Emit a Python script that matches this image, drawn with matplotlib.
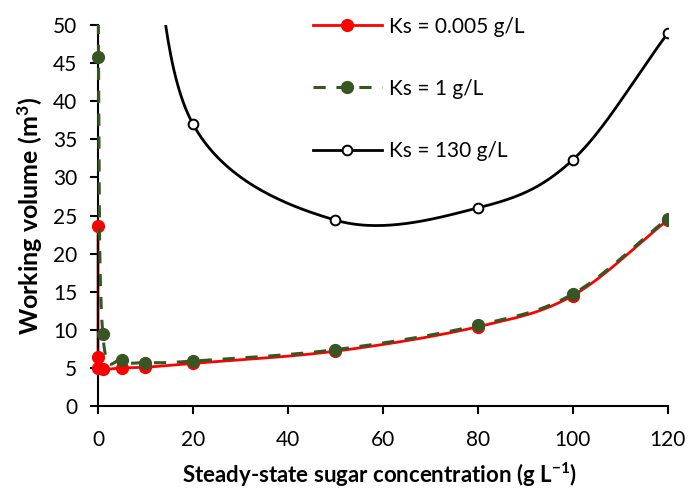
import numpy as np
import matplotlib
matplotlib.use('Agg')
import matplotlib.pyplot as plt

plt.rcParams['font.family'] = ['Lato', 'DejaVu Sans']
plt.rcParams['mathtext.fontset'] = 'custom'
plt.rcParams['mathtext.rm'] = 'Lato'
plt.rcParams['mathtext.bf'] = 'Lato:bold'
plt.rcParams['mathtext.default'] = 'bf'

# Concentración de azúcar en estado estacionario (g/L) y volumen de trabajo (m3)
s_red = [0.001, 0.01, 0.1, 1, 5, 10, 20, 50, 80, 100, 120]
v_red = [23.6, 6.5, 5.0, 4.8, 5.0, 5.1, 5.6, 7.2, 10.4, 14.5, 24.4]

s_green = [0.01, 0.1, 1, 5, 10, 20, 50, 80, 100, 120]
v_green = [120.0, 45.8, 9.5, 6.0, 5.7, 5.9, 7.4, 10.6, 14.7, 24.6]

s_black = [10, 20, 50, 80, 100, 120]
v_black = [70.0, 37.0, 24.4, 26.0, 32.3, 48.9]

labels = ['Ks = 0.005 g/L', 'Ks = 1 g/L', 'Ks = 130 g/L']

XMAX, YMAX = 120.0, 50.0


def suavizar(x, y, n=60):
    # Curva suavizada tipo Catmull-Rom (como la línea suavizada de Excel)
    p = np.column_stack([np.asarray(x, float) / XMAX, np.asarray(y, float) / YMAX])
    m = len(p)
    tang = np.zeros_like(p)
    for i in range(m):
        a = p[max(i - 1, 0)]
        b = p[min(i + 1, m - 1)]
        tang[i] = (b - a) / 2.0 if 0 < i < m - 1 else (b - a)
    out = []
    t = np.linspace(0, 1, n)
    h00 = 2 * t**3 - 3 * t**2 + 1
    h10 = t**3 - 2 * t**2 + t
    h01 = -2 * t**3 + 3 * t**2
    h11 = t**3 - t**2
    for i in range(m - 1):
        seg = (h00[:, None] * p[i] + h10[:, None] * tang[i]
               + h01[:, None] * p[i + 1] + h11[:, None] * tang[i + 1])
        out.append(seg)
    c = np.vstack(out)
    return c[:, 0] * XMAX, c[:, 1] * YMAX


fig = plt.figure(figsize=(6.89, 4.91), dpi=100)
# eje x desde -1.2 para que los marcadores en x=0 no se recorten
ax = fig.add_axes([0.134, 0.173, 0.835, 0.776])

red = '#FF0000'
green = '#375623'

xr, yr = suavizar(s_red, v_red)
ax.plot(xr, yr, color=red, lw=2.0, zorder=2)
ax.plot(s_red, v_red, 'o', color=red, ms=8.5, zorder=3)

xg, yg = suavizar(s_green, v_green)
ax.plot(xg, yg, color=green, lw=2.2, ls=(0, (4, 3.5)), zorder=4)
ax.plot(s_green, v_green, 'o', color=green, ms=8.5, zorder=5)

xb, yb = suavizar(s_black, v_black)
ax.plot(xb, yb, color='black', lw=2.0, zorder=6)
ax.plot(s_black, v_black, 'o', mfc='white', mec='black', mew=1.4, ms=7, zorder=7)

# Entradas de la leyenda
h1, = ax.plot([], [], color=red, lw=2.0, marker='o', ms=8.5)
h2, = ax.plot([], [], color=green, lw=2.2, ls=(0, (4, 3.5)), marker='o', ms=8.5)
h3, = ax.plot([], [], color='black', lw=2.0, marker='o', mfc='white', mec='black',
              mew=1.4, ms=7)
fig.legend([h1, h2, h3], labels, loc='upper left', bbox_to_anchor=(0.454, 0.966),
           frameon=False, fontsize=15, handlelength=3.3, handletextpad=0.35,
           labelspacing=2.02, borderpad=0, borderaxespad=0)

ax.set_xlim(-1.2, 120)
ax.set_ylim(0, 50)
ax.set_xticks(np.arange(0, 121, 20))
ax.set_yticks(np.arange(0, 51, 5))
ax.spines['left'].set_position(('data', 0))
ax.spines['bottom'].set_bounds(0, 120)
for lado in ['top', 'right']:
    ax.spines[lado].set_visible(False)
for lado in ['left', 'bottom']:
    ax.spines[lado].set_linewidth(1.5)
ax.tick_params(direction='out', length=6, width=1.5, labelsize=15)
ax.tick_params(axis='x', pad=11)
ax.tick_params(axis='y', pad=9)

ax.set_xlabel('Steady-state sugar concentration (g L$^{-1}$)', fontsize=16,
              fontweight='bold', labelpad=8)
ax.set_ylabel('Working volume (m$^{3}$)', fontsize=18, fontweight='bold', labelpad=6)

fig.savefig('out.png', dpi=100)
